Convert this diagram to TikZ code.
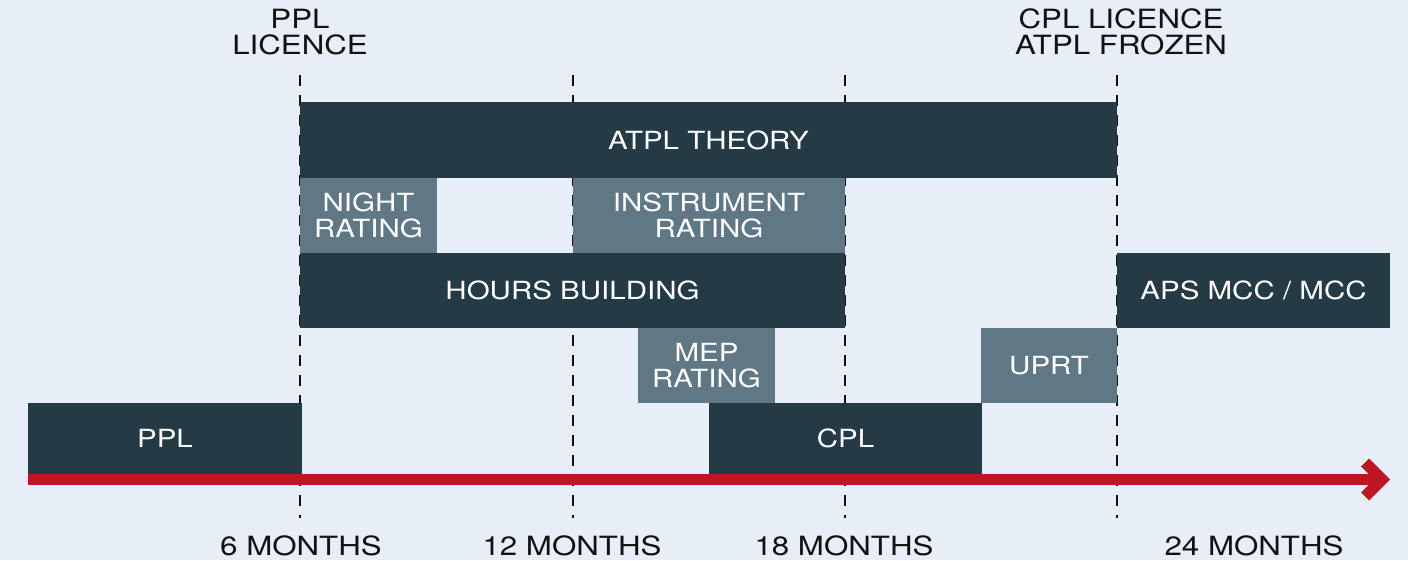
\documentclass[tikz,border=0pt]{standalone}
\usepackage{fontspec}
\setmainfont{TeX Gyre Heros}[FakeStretch=1.18]
\definecolor{bgc}{RGB}{232,238,247}
\definecolor{darkc}{RGB}{36,59,70}
\definecolor{midc}{RGB}{96,120,133}
\definecolor{redc}{RGB}{190,22,34}
\definecolor{inkc}{RGB}{17,17,17}
\tikzset{
  boxbase/.style={anchor=north west, inner sep=0pt, outer sep=0pt, text=white, align=center,
    font=\fontsize{25}{26}\selectfont},
  darkbox/.style={boxbase, fill=darkc},
  midbox/.style={boxbase, fill=midc},
  guide/.style={draw=inkc, line width=2.8pt, dash pattern=on 11pt off 9pt},
  outlabel/.style={text=inkc, inner sep=0pt, align=center, font=\fontsize{26.5}{26}\selectfont},
}
\begin{document}
\begin{tikzpicture}[x=1pt,y=-1pt]
\fill[bgc] (0,0) rectangle (1408,560);
\useasboundingbox (0,0) rectangle (1408,560);
% guide lines
\coordinate (g1t) at (300,75);  \coordinate (g1b) at (300,518);
\coordinate (g2t) at (573,75);  \coordinate (g2b) at (573,518);
\coordinate (g3t) at (845,75);  \coordinate (g3b) at (845,518);
\coordinate (g4t) at (1117,75); \coordinate (g4b) at (1117,518);
\draw[guide] (g1t) -- (g1b);
\draw[guide] (g2t) -- (g2b);
\draw[guide] (g3t) -- (g3b);
\draw[guide] (g4t) -- (g4b);
% boxes
\node[darkbox, minimum width=817pt, minimum height=76pt] (atpl) at (300,102) {ATPL THEORY};
\node[midbox, minimum width=137pt, minimum height=75pt] (night) at (300,178) {NIGHT\\RATING};
\node[midbox, minimum width=272pt, minimum height=75pt] (ir) at (573,178) {INSTRUMENT\\RATING};
\node[darkbox, minimum width=545pt, minimum height=75pt] (hours) at (300,253) {HOURS BUILDING};
\node[darkbox, minimum width=273pt, minimum height=75pt] (aps) at (1117,253) {APS MCC / MCC};
\node[midbox, minimum width=137pt, minimum height=75pt] (mep) at (638,328) {MEP\\RATING};
\node[midbox, minimum width=136pt, minimum height=75pt] (uprt) at (981,328) {UPRT};
\node[darkbox, minimum width=273pt, minimum height=71pt] (cpl) at (709,403) {CPL};
\node[darkbox, minimum width=274pt, minimum height=71pt] (ppl) at (28,403) {PPL};
% timeline arrow
\coordinate (tl0) at (28,479.5);
\coordinate (tl1) at (1378,479.5);
\draw[redc, line width=11pt] (tl0) -- (tl1);
\fill[redc] (1390,479.5) -- (1369,458.5) -- (1361,466.5) -- (1374,479.5) -- (1361,492.5) -- (1369,500.5) -- cycle;
% labels
\node[outlabel, anchor=south] (lppl) at (300,55.5) {PPL\\LICENCE};
\node[outlabel, anchor=south] (lcpl) at (1121,55.5) {CPL LICENCE\\ATPL FROZEN};
\node[outlabel, anchor=base] (m6) at (301,555) {6 MONTHS};
\node[outlabel, anchor=base] (m12) at (572,555) {12 MONTHS};
\node[outlabel, anchor=base] (m18) at (844,555) {18 MONTHS};
\node[outlabel, anchor=base] (m24) at (1254,555) {24 MONTHS};
\end{tikzpicture}
\end{document}
